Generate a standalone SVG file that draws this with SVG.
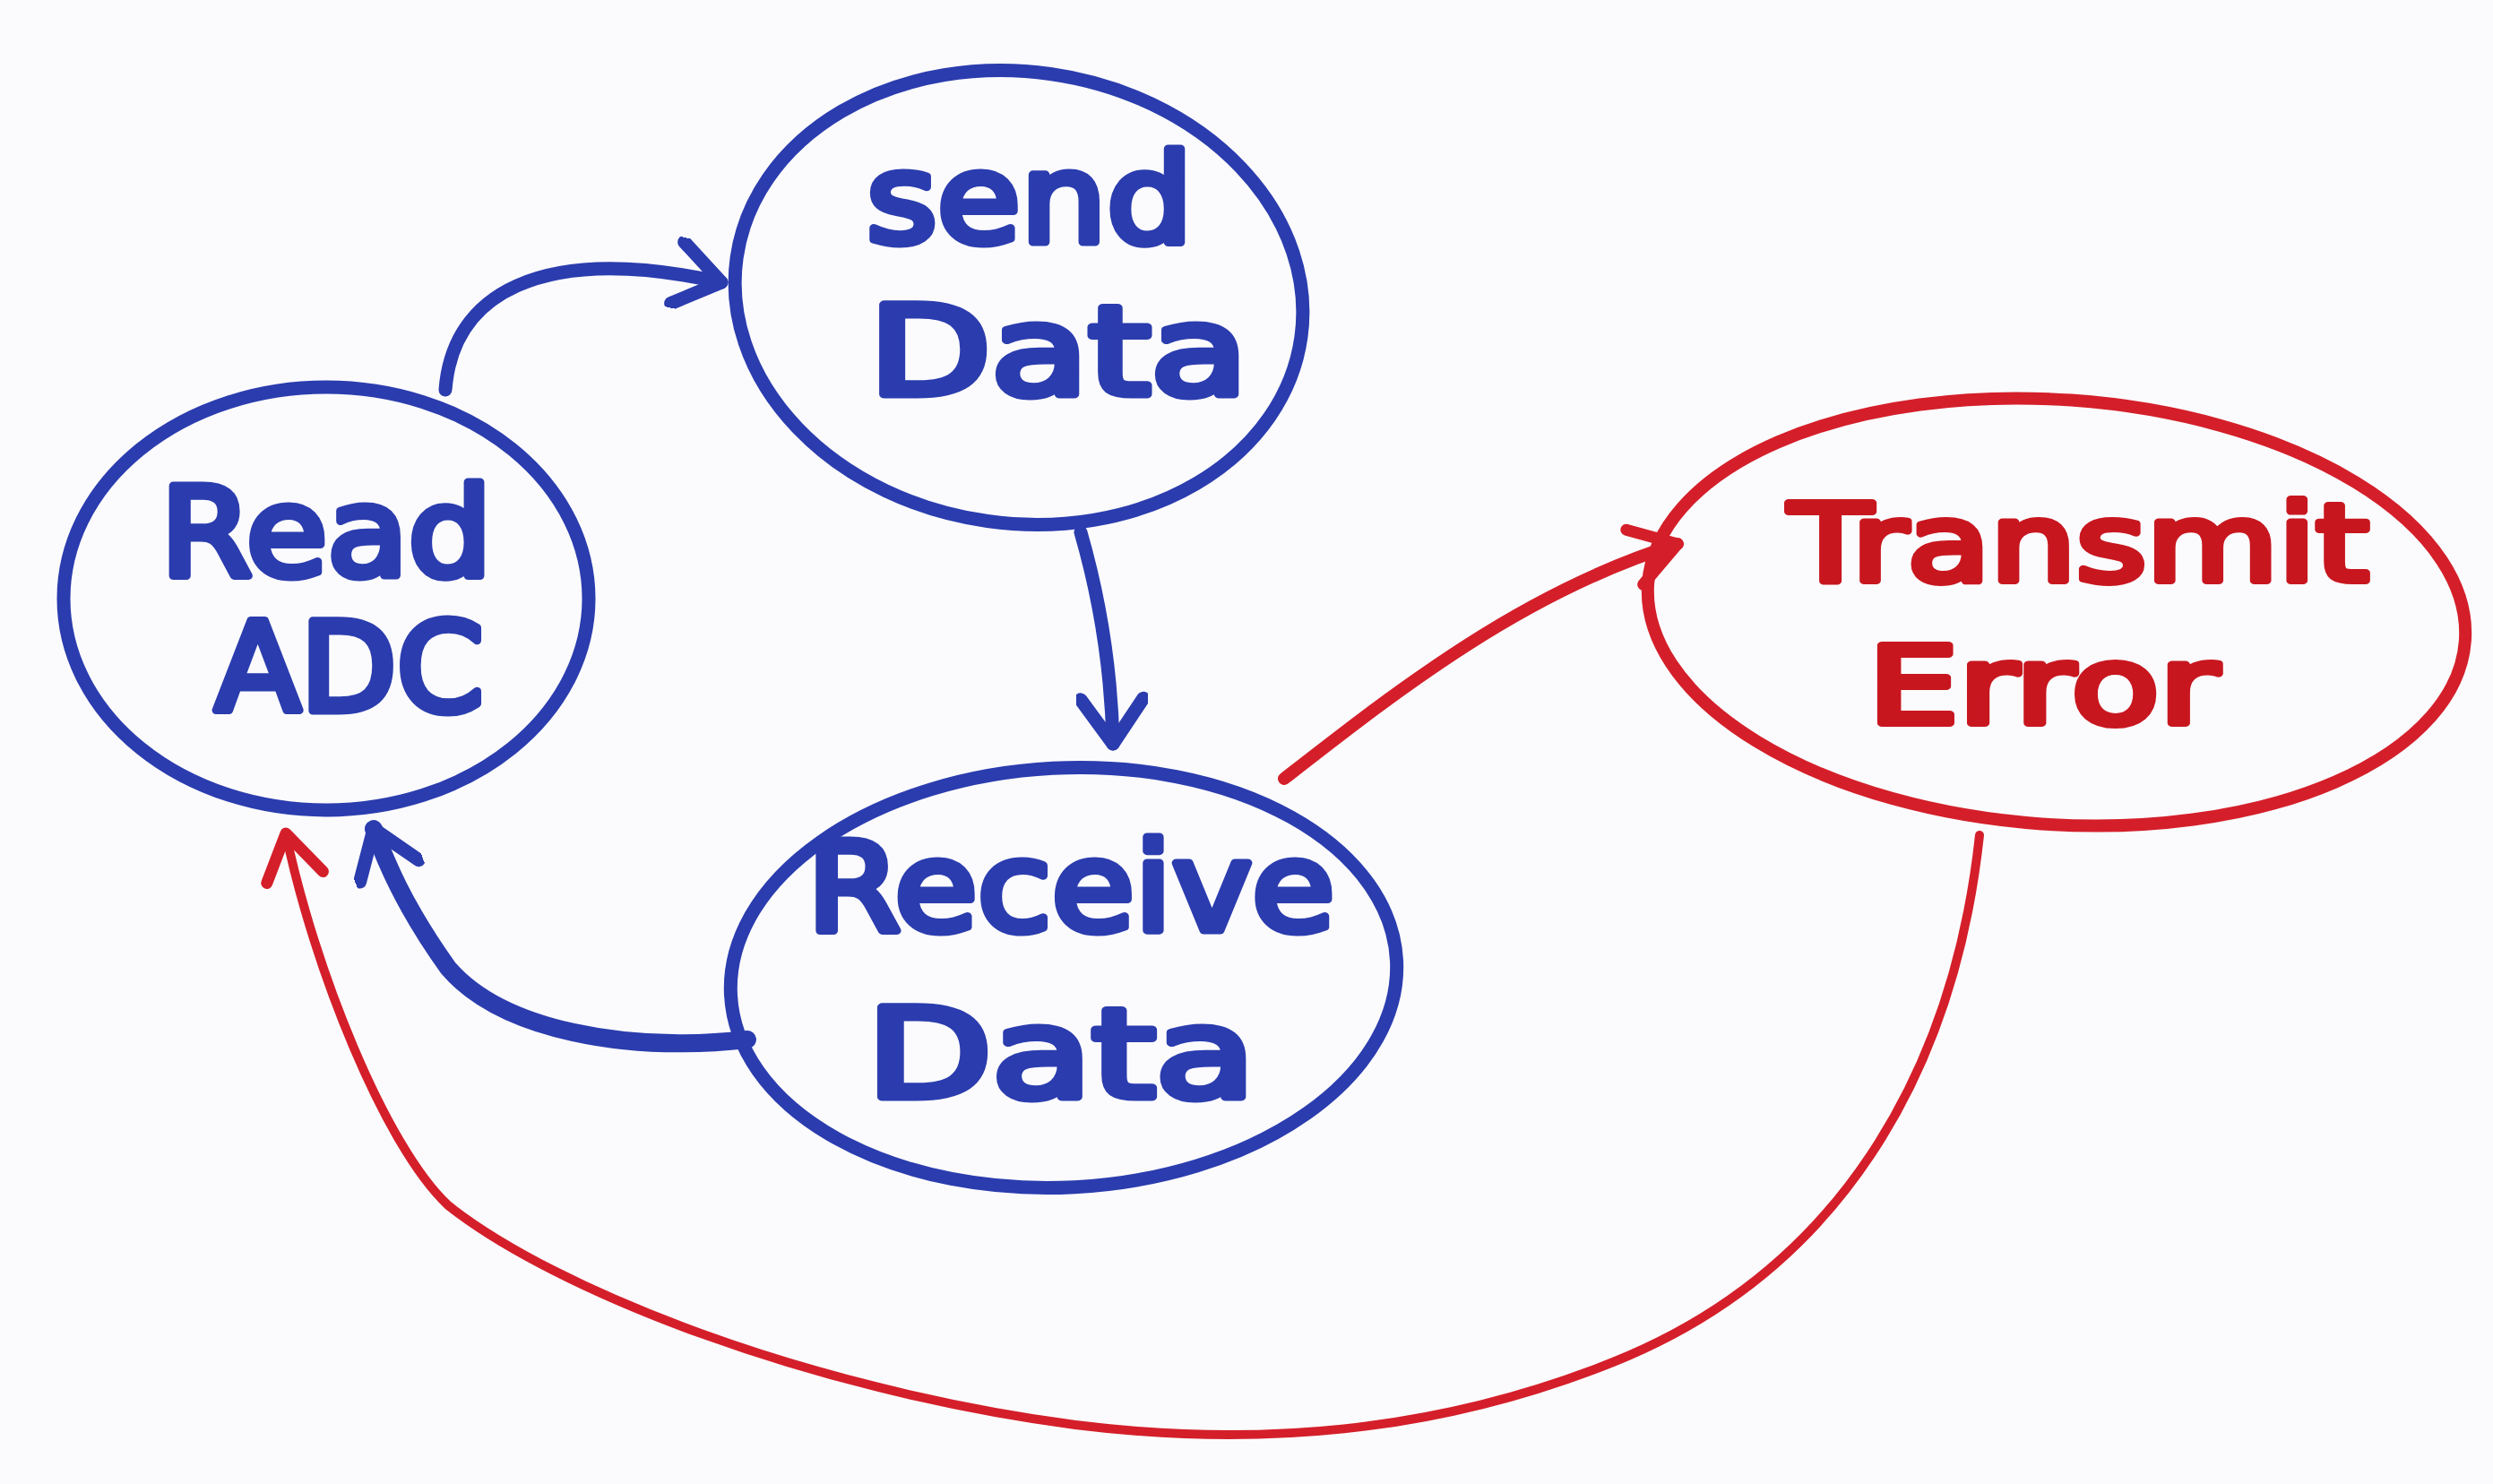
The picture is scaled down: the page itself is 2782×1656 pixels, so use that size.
<svg xmlns="http://www.w3.org/2000/svg" width="2782" height="1656" viewBox="0 0 2782 1656">
<defs>
<style>
.nb{fill:none;stroke:#2b3cae;stroke-width:15;stroke-linecap:round;stroke-linejoin:round}
.nr{fill:none;stroke:#d41f2a;stroke-width:14;stroke-linecap:round;stroke-linejoin:round}
.tb{font-family:"DejaVu Sans",sans-serif;font-size:138px;fill:#2b3cae;stroke:#2b3cae;stroke-width:9;stroke-linejoin:round;text-anchor:middle}
.tr{font-family:"DejaVu Sans",sans-serif;font-size:120px;fill:#c8161f;stroke:#c8161f;stroke-width:8;stroke-linejoin:round;text-anchor:middle}
</style>
<marker id="ab" markerUnits="userSpaceOnUse" viewBox="0 0 80 80" refX="70" refY="40" markerWidth="80" markerHeight="80" orient="auto">
<path d="M20,5 L70,40 L20,75" fill="none" stroke="#2b3cae" stroke-width="15" stroke-linecap="round" stroke-linejoin="round"/>
</marker>
<marker id="ar" markerUnits="userSpaceOnUse" viewBox="0 0 80 80" refX="70" refY="40" markerWidth="80" markerHeight="80" orient="auto">
<path d="M20,8 L70,40 L20,72" fill="none" stroke="#d41f2a" stroke-width="13" stroke-linecap="round" stroke-linejoin="round"/>
</marker>
</defs>
<rect width="2782" height="1656" fill="#fbfbfd"/>
<g id="connectors">
<path class="nb" d="M497,435 C505,330 600,270 805,315" marker-end="url(#ab)"/>
<path class="nb" d="M1206,594 C1225,660 1240,740 1242,830" marker-end="url(#ab)"/>
<path class="nb" style="stroke-width:20" d="M834,1160 C700,1175 560,1150 500,1080 C450,1010 430,960 417,925" marker-end="url(#ab)"/>
<path class="nr" d="M1433,869 C1560,770 1700,660 1872,607" marker-end="url(#ar)"/>
<path class="nr" style="stroke-width:10" d="M2209,932 C2180,1200 2050,1420 1800,1520 C1600,1600 1400,1615 1200,1590 C900,1550 620,1440 500,1345 C430,1280 350,1080 319,930" marker-end="url(#ar)"/>
</g>
<g id="read-adc">
<ellipse class="nb" cx="364" cy="668" rx="293" ry="236"/>
<text class="tb" x="364" y="642" textLength="370" lengthAdjust="spacingAndGlyphs">Read</text>
<text class="tb" x="390" y="793" textLength="300" lengthAdjust="spacingAndGlyphs">ADC</text>
</g>
<g id="send-data">
<ellipse class="nb" cx="1137" cy="332" rx="318" ry="252" transform="rotate(8 1137 332)"/>
<text class="tb" x="1149" y="270" textLength="364" lengthAdjust="spacingAndGlyphs">send</text>
<text class="tb" x="1181" y="440" textLength="423" lengthAdjust="spacingAndGlyphs">Data</text>
</g>
<g id="receive-data">
<ellipse class="nb" cx="1187" cy="1091" rx="372" ry="234" transform="rotate(-3 1187 1091)"/>
<text class="tb" x="1195" y="1038" textLength="589" lengthAdjust="spacingAndGlyphs">Receive</text>
<text class="tb" x="1184" y="1224" textLength="434" lengthAdjust="spacingAndGlyphs">Data</text>
</g>
<g id="transmit-error">
<ellipse class="nr" cx="2295" cy="683" rx="457" ry="237" transform="rotate(4 2295 683)"/>
<text class="tr" x="2320" y="648" textLength="647" lengthAdjust="spacingAndGlyphs">Transmit</text>
<text class="tr" x="2280" y="807" textLength="391" lengthAdjust="spacingAndGlyphs">Error</text>
</g>
</svg>
